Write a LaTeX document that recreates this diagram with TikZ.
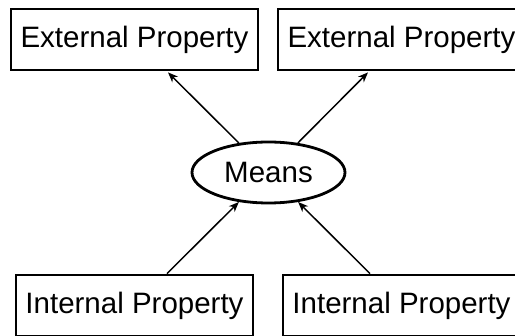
\documentclass[tikz,border=0pt]{standalone}
\usepackage{fontspec}
\setmainfont{Liberation Sans}
\usetikzlibrary{shapes.geometric,arrows.meta}
\begin{document}
\begin{tikzpicture}[x=1pt,y=-1pt,
  prop/.style={draw,line width=2.8pt,inner sep=0pt,minimum height=61pt,
    font=\fontsize{29.5}{35}\selectfont},
  meanbox/.style={draw,ellipse,line width=2.8pt,inner sep=0pt,minimum width=153pt,
    minimum height=61pt,font=\fontsize{29.5}{35}\selectfont},
  conn/.style={line width=1.5pt,-{Stealth[length=10pt,width=8pt,inset=3pt]}}]
\useasboundingbox (0,0) rectangle (515,336);
\clip (0,0) rectangle (515,336);
\node[prop,minimum width=247pt] (tl) at (134.5,39.5) {External Property};
\node[prop,minimum width=247pt] (tr) at (401.5,39.5) {External Property};
\node[prop,minimum width=237pt] (bl) at (134.5,305.5) {Internal Property};
\node[prop,minimum width=237pt] (br) at (401.5,305.5) {Internal Property};
\node[meanbox] (m) at (268.5,172.5) {Means};
\coordinate (tla) at ([xshift=33.5pt,yshift=-1pt]tl.south);
\coordinate (tra) at ([xshift=-33.5pt,yshift=-1pt]tr.south);
\coordinate (bla) at ([xshift=32.5pt]bl.north);
\coordinate (bra) at ([xshift=-31.5pt]br.north);
\draw[conn] (m) -- (tla);
\draw[conn] (m) -- (tra);
\draw[conn] (bla) -- (m);
\draw[conn] (bra) -- (m);
\end{tikzpicture}
\end{document}
